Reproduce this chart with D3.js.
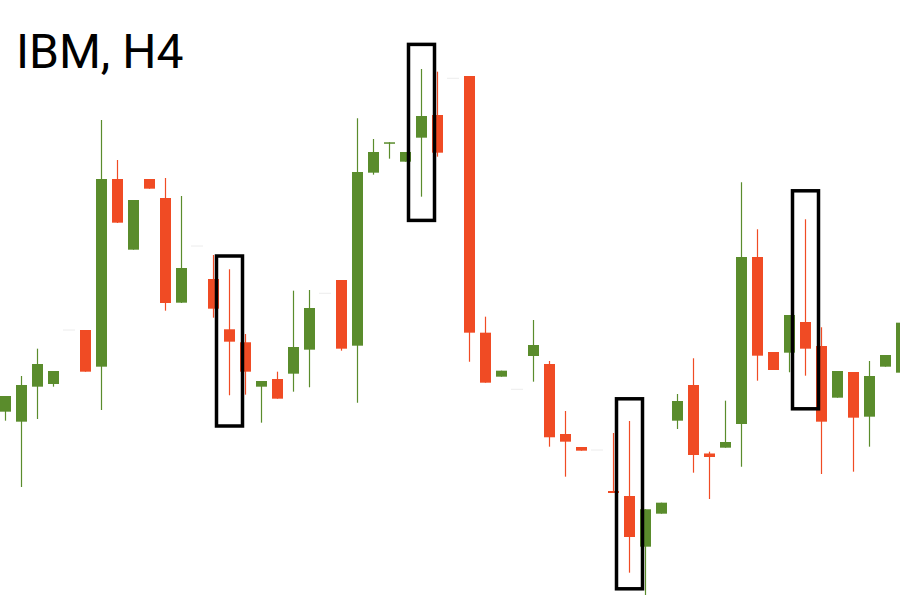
<!DOCTYPE html>
<html>
<head>
<meta charset="utf-8">
<script src="https://cdn.jsdelivr.net/npm/d3@7"></script>
<style>
  html, body { margin: 0; padding: 0; background: #ffffff; }
  svg { display: block; }
</style>
</head>
<body>
<svg id="chart" width="900" height="600"></svg>
<script>
// ---- Data (IBM, H4 candles) ----
const title = "IBM, H4";
const bars   = d3.range(57);
const opens  = [134.708,134.458,135.333,135.4,136.75,136.75,135.833,140.525,138.758,140.525,
                140.05,137.433,138.85,138.025,136.768,136.443,135.333,135.525,135.658,136.258,
                137.668,138,136.358,140.683,141.408,140.958,141.558,142.125,143.043,143.1,
                136.683,135.583,135.268,136.1,135.9,134.15,133.825,133.75,132.725,132.6,
                131.333,132.158,134.483,135.375,133.663,133.808,134.4,138.575,136.2,136.183,
                136.95,136.35,135.058,135.7,134.583,135.833,135.683];
const highs  = [135.1,135.6,136.283,135.725,136.75,136.75,142,141,140,140.525,
                140.55,140.1,138.85,138.625,138.268,136.65,135.475,135.708,137.733,137.75,
                137.668,138,142.043,141.525,141.443,141.2,143.275,143.208,143.043,143.1,
                137.083,135.733,135.268,137,135.975,134.725,133.825,133.75,134.175,134.475,
                132.268,132.433,135.15,136.043,133.708,134.983,140.443,139.268,136.2,137.125,
                139.518,136.818,135.725,135.7,135.975,136.125,136.933];
const lows   = [134.483,132.825,134.525,135.333,136.75,135.708,134.75,139.425,138.758,140.283,
                137.233,137.425,138.85,137.058,135.118,135.133,134.433,135.033,135.208,135.318,
                137.668,136.233,134.933,140.633,141.033,140.958,140.083,141.083,143.043,135.958,
                135.433,135.583,135.268,135.458,133.833,133.083,133.733,133.75,132.675,130.683,
                130.125,132.158,134.275,133.183,132.525,133.808,133.333,135.483,135.75,135.693,
                135.608,133.15,135.058,133.208,133.833,135.833,135.683];
const closes = [135.1,135.375,135.9,135.725,136.75,135.708,140.525,139.433,140,140.283,
                137.425,138.3,138.85,137.283,136.458,135.708,135.475,135.033,136.325,137.3,
                137.668,136.283,140.7,141.2,141.443,141.2,142.1,141.183,143.043,136.683,
                135.433,135.733,135.268,136.375,134.068,133.958,133.733,133.75,132.675,131.575,
                132.268,132.433,134.975,133.625,133.575,133.95,138.575,136.108,135.75,137.125,
                136.283,134.458,135.725,134.558,135.6,136.125,136.933];

// highlighted candles (boxes): bar index, box top price, box bottom price
const boxBars    = [14, 26, 39, 50];
const boxTops    = [138.6, 143.89, 135.03, 140.23];
const boxBottoms = [134.35, 139.49, 130.28, 134.78];

// ---- Styles ----
const UP = "#5a8c2c", DOWN = "#f04b24", FLAT = "#ececec";

const W = 900, H = 600;
const svg = d3.select("#chart");

const x = d3.scaleLinear().domain([0, 56]).range([5, 901]);
const y = d3.scaleLinear().domain([130, 145]).range([600, 0]);

const data = bars.map(i => ({ i, o: opens[i], h: highs[i], l: lows[i], c: closes[i] }));
const colorOf = d => d.o === d.c && d.h === d.l ? FLAT : (d.c >= d.o ? UP : DOWN);
const bodyW = 11;

const g = svg.append("g");

// wicks
g.selectAll("line.wick").data(data.filter(d => colorOf(d) !== FLAT)).join("line")
  .attr("class", "wick")
  .attr("x1", d => Math.round(x(d.i)) + 0.5).attr("x2", d => Math.round(x(d.i)) + 0.5)
  .attr("y1", d => y(d.h)).attr("y2", d => y(d.l))
  .attr("stroke", colorOf).attr("stroke-width", 1.2);

// bodies
g.selectAll("rect.body").data(data.filter(d => colorOf(d) !== FLAT)).join("rect")
  .attr("class", "body")
  .attr("x", d => Math.round(x(d.i)) - 5)
  .attr("width", bodyW)
  .attr("y", d => y(Math.max(d.o, d.c)))
  .attr("height", d => Math.max(1.5, Math.abs(y(d.o) - y(d.c))))
  .attr("fill", colorOf);

// flat (faint) candles
g.selectAll("line.flat").data(data.filter(d => colorOf(d) === FLAT)).join("line")
  .attr("class", "flat")
  .attr("x1", d => x(d.i) - 6).attr("x2", d => x(d.i) + 6)
  .attr("y1", d => y(d.c)).attr("y2", d => y(d.c))
  .attr("stroke", FLAT).attr("stroke-width", 1);

// highlight boxes
svg.append("g").selectAll("rect.box").data(boxBars.map((b, k) => ({ b, t: boxTops[k], btm: boxBottoms[k] })))
  .join("rect")
  .attr("class", "box")
  .attr("x", d => x(d.b) - 12.5)
  .attr("width", 26)
  .attr("y", d => y(d.t))
  .attr("height", d => y(d.btm) - y(d.t))
  .attr("fill", "none")
  .attr("stroke", "#000")
  .attr("stroke-width", 3.5);

// title
svg.append("text")
  .attr("x", 16).attr("y", 68)
  .attr("font-family", "Roboto, 'Open Sans', sans-serif")
  .attr("font-size", 48)
  .attr("fill", "#000")
  .text(title);
</script>
</body>
</html>
